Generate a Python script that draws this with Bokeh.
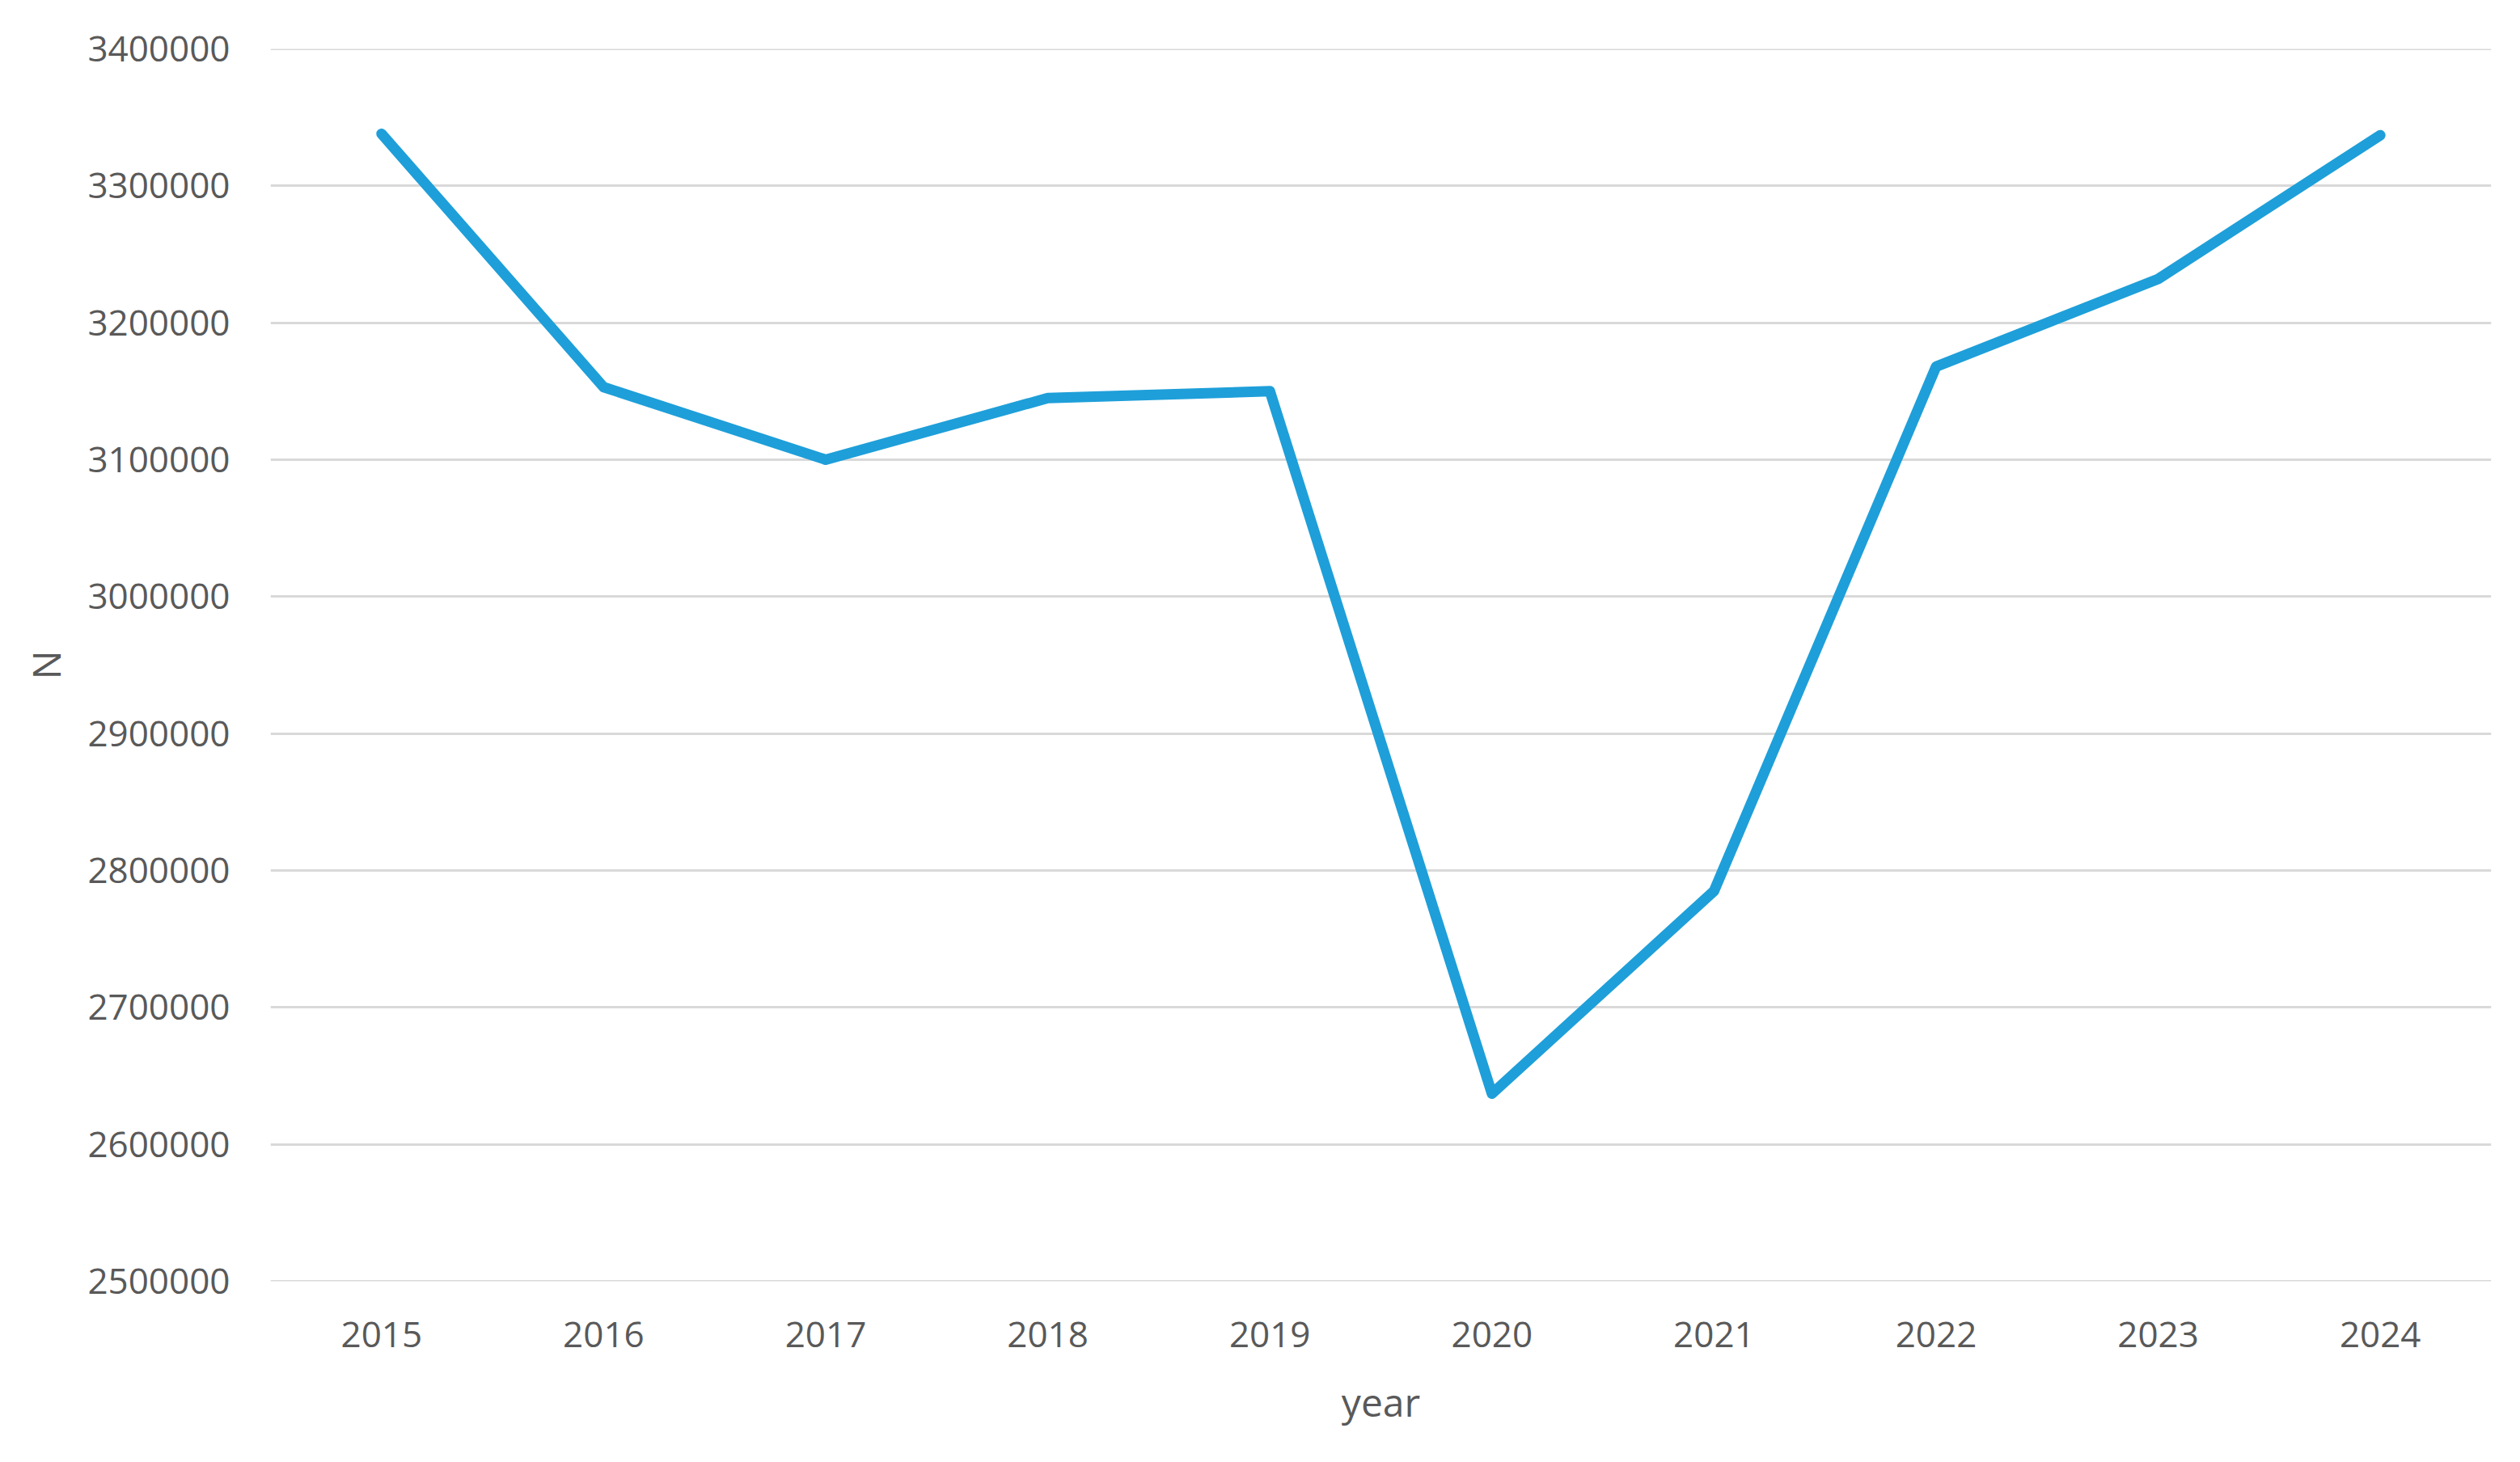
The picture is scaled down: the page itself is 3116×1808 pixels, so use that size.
from bokeh.plotting import figure
from bokeh.models import FactorRange, Range1d, FixedTicker, NumeralTickFormatter, Span
from bokeh.embed import file_html
from bokeh.resources import INLINE

years = ["2015", "2016", "2017", "2018", "2019", "2020", "2021", "2022", "2023", "2024"]
values = [3338000, 3153000, 3100000, 3145000, 3150000, 2637000, 2785000, 3168000, 3232000, 3337000]
y_ticks = [2500000, 2600000, 2700000, 2800000, 2900000, 3000000, 3100000, 3200000, 3300000, 3400000]

FONT = "Open Sans"
TEXT_COLOR = "#595959"
GRID_COLOR = "#D9D9D9"

p = figure(
    width=3108, height=1800,
    x_range=FactorRange(*years),
    y_range=Range1d(y_ticks[0], y_ticks[-1]),
    output_backend="svg", toolbar_location=None,
    min_border_left=334, min_border_right=28,
    min_border_top=60, min_border_bottom=216,
)
p.outline_line_color = None
p.background_fill_color = "white"
p.border_fill_color = "white"

# grid
p.xgrid.grid_line_color = None
p.ygrid.grid_line_color = GRID_COLOR
p.ygrid.grid_line_width = 3
for loc in (y_ticks[0], y_ticks[-1]):
    p.add_layout(Span(location=loc, dimension="width", line_color=GRID_COLOR,
                      line_width=3, level="underlay"))

p.line(x=years, y=values, line_color="#1E9FD9", line_width=13,
       line_cap="round", line_join="round")

p.yaxis.ticker = FixedTicker(ticks=y_ticks)
p.yaxis.formatter = NumeralTickFormatter(format="0")

for ax in (p.xaxis[0], p.yaxis[0]):
    ax.axis_line_color = None
    ax.major_tick_line_color = None
    ax.minor_tick_line_color = None
    ax.major_label_text_font = FONT
    ax.major_label_text_font_size = "44px"
    ax.major_label_text_color = TEXT_COLOR
    ax.axis_label_text_font = FONT
    ax.axis_label_text_font_size = "48px"
    ax.axis_label_text_font_style = "normal"
    ax.axis_label_text_color = TEXT_COLOR

p.xaxis.axis_label = "year"
p.yaxis.axis_label = "N"
p.yaxis.major_label_standoff = 44
p.yaxis.axis_label_standoff = 16
p.xaxis.major_label_standoff = 44
p.xaxis.axis_label_standoff = 32

open("out.html", "w").write(file_html(p, INLINE))
